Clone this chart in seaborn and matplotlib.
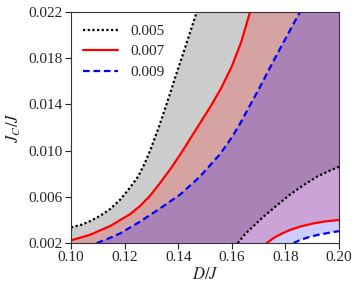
import numpy as np
import seaborn as sns
import matplotlib
matplotlib.use('Agg')
import matplotlib.pyplot as plt

# Axis ranges
x_lim = (0.10, 0.20)
y_lim = (0.002, 0.022)

labels = ['0.005', '0.007', '0.009']
colors = ['black', 'red', 'blue']
styles = [(0, (1, 1.1)), '-', (0, (3, 1.7))]

# Upper boundaries (left curves)
up_x_005 = [0.100, 0.1040, 0.1071, 0.1108, 0.1146, 0.1183, 0.1220, 0.1250, 0.1276, 0.1300, 0.1330, 0.1369, 0.1388, 0.1419, 0.1469]
up_y_005 = [0.00336, 0.00360, 0.00390, 0.00435, 0.00495, 0.00575, 0.00680, 0.00775, 0.00895, 0.01030, 0.01220, 0.01490, 0.01630, 0.01845, 0.02200]

up_x_007 = [0.100, 0.1071, 0.1146, 0.1220, 0.1257, 0.1295, 0.1332, 0.1369, 0.1407, 0.1469, 0.1520, 0.1560, 0.1600, 0.1635, 0.1668]
up_y_007 = [0.00224, 0.00272, 0.00348, 0.00450, 0.00520, 0.00610, 0.00720, 0.00835, 0.00965, 0.01193, 0.01380, 0.01540, 0.01730, 0.01940, 0.02200]

up_x_009 = [0.1096, 0.1140, 0.1183, 0.1257, 0.1332, 0.1407, 0.1481, 0.1556, 0.1600, 0.1631, 0.1700, 0.1770, 0.1854]
up_y_009 = [0.00200, 0.00240, 0.00284, 0.00385, 0.00500, 0.00620, 0.00775, 0.00970, 0.01115, 0.01235, 0.01530, 0.01840, 0.02200]

# Lower boundaries (bottom-right curves)
lo_x_005 = [0.1622, 0.1650, 0.1718, 0.1770, 0.1817, 0.1870, 0.1917, 0.1960, 0.2000]
lo_y_005 = [0.00200, 0.00280, 0.00428, 0.00530, 0.00620, 0.00705, 0.00774, 0.00822, 0.00860]

lo_x_007 = [0.1730, 0.1760, 0.1790, 0.1817, 0.1854, 0.1904, 0.1950, 0.2000]
lo_y_007 = [0.00200, 0.00250, 0.00286, 0.00313, 0.00342, 0.00370, 0.00388, 0.00400]

lo_x_009 = [0.1830, 0.1855, 0.1885, 0.1917, 0.1960, 0.2000]
lo_y_009 = [0.00200, 0.00226, 0.00250, 0.00269, 0.00288, 0.00304]

upper = [(up_x_005, up_y_005), (up_x_007, up_y_007), (up_x_009, up_y_009)]
lower = [(lo_x_005, lo_y_005), (lo_x_007, lo_y_007), (lo_x_009, lo_y_009)]

sns.set_theme(style='ticks')
plt.rcParams['font.family'] = ['Liberation Serif', 'DejaVu Serif']
plt.rcParams['mathtext.fontset'] = 'stix'
plt.rcParams['font.size'] = 11

fig, ax = plt.subplots(figsize=(3.57, 2.86), dpi=100)
fig.subplots_adjust(left=0.199, right=0.9496, bottom=0.150, top=0.958)

# Filled regions: between each upper and lower boundary
for (ux, uy), (lx, ly), c in zip(upper, lower, colors):
    px = list(ux) + [x_lim[1]] + list(lx[::-1])
    py = list(uy) + [y_lim[1]] + list(ly[::-1])
    if uy[0] > y_lim[0]:
        px = px + [x_lim[0]]
        py = py + [y_lim[0]]
    ax.fill(px, py, color=c, alpha=0.2, lw=0)

for (ux, uy), (lx, ly), c, ls, lab in zip(upper, lower, colors, styles, labels):
    sns.lineplot(x=ux, y=uy, ax=ax, color=c, lw=1.6, linestyle=ls, label=lab,
                 estimator=None, sort=False)
    sns.lineplot(x=lx, y=ly, ax=ax, color=c, lw=1.6, linestyle=ls,
                 estimator=None, sort=False, legend=False)

ax.set_xlim(*x_lim)
ax.set_ylim(*y_lim)
ax.set_xticks([0.10, 0.12, 0.14, 0.16, 0.18, 0.20])
ax.set_yticks([0.002, 0.006, 0.010, 0.014, 0.018, 0.022])
ax.set_xticklabels(['0.10', '0.12', '0.14', '0.16', '0.18', '0.20'])
ax.set_yticklabels(['0.002', '0.006', '0.010', '0.014', '0.018', '0.022'])
ax.tick_params(labelsize=11, length=4, width=0.8, direction='out', pad=2)
for s in ax.spines.values():
    s.set_linewidth(0.8)
    s.set_color('#333333')

ax.set_xlabel('$D/J$', fontsize=12, labelpad=2)
ax.set_ylabel('$J_C/J$', fontsize=12, labelpad=4)

ax.legend(loc='upper left', frameon=False, fontsize=11, handlelength=2.3,
          handletextpad=0.8, labelspacing=0.45, borderaxespad=0.4)

fig.savefig('out.png', dpi=100)
